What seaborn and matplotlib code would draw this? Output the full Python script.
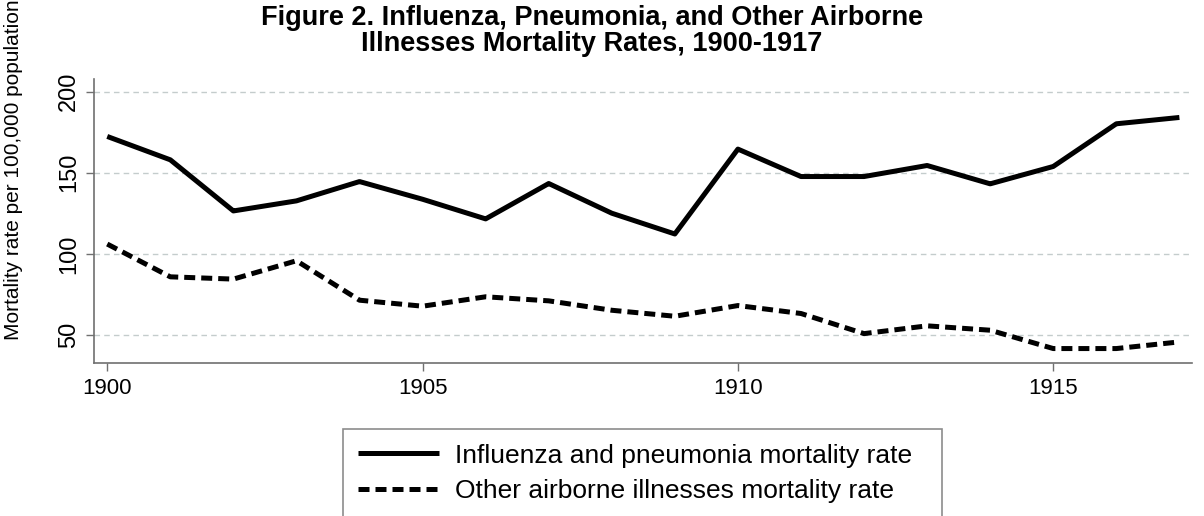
import pandas as pd
import matplotlib.pyplot as plt
import seaborn as sns

years = list(range(1900, 1918))
flu_pneumonia = [172.4, 158.0, 126.5, 132.7, 144.6, 133.7, 121.6, 143.4, 125.1, 112.3,
                 164.6, 147.7, 147.7, 154.5, 143.2, 153.9, 180.2, 184.1]
other_airborne = [106.1, 85.9, 84.5, 95.8, 71.5, 67.8, 73.6, 71.1, 65.3, 61.6,
                  68.2, 63.3, 50.9, 55.7, 53.0, 41.7, 41.7, 45.8]
series_names = ['Influenza and pneumonia mortality rate',
                'Other airborne illnesses mortality rate']
x_ticks = [1900, 1905, 1910, 1915]
y_ticks = [50, 100, 150, 200]

df = pd.DataFrame({
    'year': years * 2,
    'rate': flu_pneumonia + other_airborne,
    'series': [series_names[0]] * len(years) + [series_names[1]] * len(years),
})

sns.set_style('white')
plt.rcParams['font.family'] = ['Liberation Sans', 'DejaVu Sans']
plt.rcParams['text.color'] = 'black'
plt.rcParams['axes.labelcolor'] = 'black'

fig = plt.figure(figsize=(12.04, 5.16), dpi=100)
ax = fig.add_axes([94 / 1204, 1 - 363 / 516, (1192 - 94) / 1204, (363 - 79) / 516])

sns.lineplot(data=df, x='year', y='rate', style='series', hue='series',
             palette=['black', 'black'], dashes=[(1, 0), (2.2, 1.2)],
             linewidth=3.6, ax=ax, legend=True)

ax.set_xlim(1899.79, 1917.2)
ax.set_ylim(32.8, 207.8)
ax.set_xticks(x_ticks)
ax.set_yticks(y_ticks)
ax.set_xticklabels([str(t) for t in x_ticks], fontsize=16)
ax.set_yticklabels([str(t) for t in y_ticks], fontsize=17, rotation=90, va='center')
ax.grid(axis='y', color='#c4cccc', linestyle=(0, (4, 3)), linewidth=1.0)
ax.grid(axis='x', visible=False)
for side in ['top', 'right']:
    ax.spines[side].set_visible(False)
for side in ['left', 'bottom']:
    ax.spines[side].set_color('#707070')
    ax.spines[side].set_linewidth(1.2)
ax.tick_params(axis='x', direction='out', length=6, width=1, color='#707070',
               bottom=True, pad=5, labelcolor='black')
ax.tick_params(axis='y', direction='out', length=6, width=1, color='#707070',
               left=True, pad=4, labelcolor='black')
ax.set_xlabel('')
ax.set_ylabel('Mortality rate per 100,000 population', fontsize=15)
ax.yaxis.set_label_coords((23 - 94) / 1098, (363 - 170) / 284)

fig.text(592 / 1204, 1 - 25 / 516, 'Figure 2. Influenza, Pneumonia, and Other Airborne',
         ha='center', va='baseline', fontsize=19.5, fontweight='bold')
fig.text(592 / 1204, 1 - 51 / 516, 'Illnesses Mortality Rates, 1900-1917',
         ha='center', va='baseline', fontsize=19.5, fontweight='bold')

handles, labels = ax.get_legend_handles_labels()
leg = ax.legend(handles, labels, loc='upper left',
                bbox_to_anchor=(343 / 1204, 1 - 530 / 516, (942 - 343) / 1204, (530 - 429) / 516),
                bbox_transform=fig.transFigure, mode='expand',
                fontsize=19, frameon=True, fancybox=False, handlelength=3.1,
                handletextpad=0.6, labelspacing=0.45, borderpad=0.55, borderaxespad=0)
leg.get_frame().set_edgecolor('#707070')
leg.get_frame().set_linewidth(1.2)
for line in leg.get_lines():
    line.set_linewidth(3.6)

fig.savefig('out.png', dpi=100)
